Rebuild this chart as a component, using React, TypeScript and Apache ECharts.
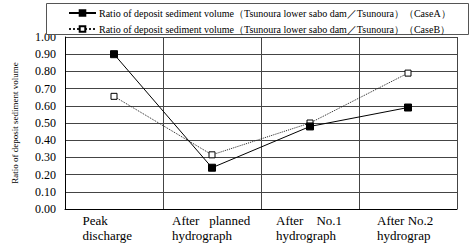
import React, { useEffect, useRef } from "react";
import * as echarts from "echarts";

const categories = [
  "Peak\ndischarge",
  "After   planned\nhydrograph",
  "After    No.1\nhydrograph",
  "After No.2\nhydrograp",
];
const seriesNames = [
  "Ratio of deposit sediment volume（Tsunoura lower sabo dam／Tsunoura）（CaseA）",
  "Ratio of deposit sediment volume（Tsunoura lower sabo dam／Tsunoura）（CaseB）",
];
const caseA = [0.9, 0.24, 0.48, 0.59];
const caseB = [0.655, 0.315, 0.5, 0.79];
const yTicks = { min: 0, max: 1, interval: 0.1 };
const yAxisTitle = "Ratio of deposit sediment volume";

const SERIF = "serif";

export default function App() {
  const ref = useRef<HTMLDivElement>(null);
  useEffect(() => {
    if (!ref.current) return;
    const chart = echarts.init(ref.current, undefined, { renderer: "svg" });
    const labelWidths = [63, 80, 68, 62];
    const rich: Record<string, any> = {};
    labelWidths.forEach((w, i) => {
      rich["c" + i] = {
        width: w,
        align: "left",
        fontSize: 13,
        lineHeight: 15,
        fontFamily: SERIF,
        color: "#000",
      };
    });
    chart.setOption({
      animation: false,
      backgroundColor: "#fff",
      textStyle: { fontFamily: SERIF },
      grid: { left: 65, right: 14, top: 37, bottom: 39 },
      graphic: [
        {
          type: "rect",
          z: 50,
          shape: { x: 46.5, y: 3.5, width: 422, height: 31 },
          style: { fill: "#fff", stroke: "#555", lineWidth: 1 },
        },
      ],
      legend: {
        z: 60,
        orient: "vertical",
        left: 68,
        top: 7,
        padding: 0,
        itemGap: 4,
        itemWidth: 27,
        itemHeight: 7,
        textStyle: {
          fontSize: 10,
          lineHeight: 12,
          fontFamily: SERIF,
          color: "#000",
          padding: [0, 0, 0, -2],
        },
        data: seriesNames,
      },
      xAxis: {
        type: "category",
        data: categories,
        boundaryGap: true,
        axisLine: { lineStyle: { color: "#000", width: 1 } },
        axisTick: { show: false },
        splitLine: { show: true, lineStyle: { color: "#444", width: 1 } },
        axisLabel: {
          interval: 0,
          margin: 4,
          fontFamily: SERIF,
          formatter: (v: string, i: number) =>
            v
              .split("\n")
              .map((l) => `{c${i}|${l}}`)
              .join("\n"),
          rich,
        },
      },
      yAxis: {
        type: "value",
        min: yTicks.min,
        max: yTicks.max,
        interval: yTicks.interval,
        name: yAxisTitle,
        nameLocation: "middle",
        nameGap: 46,
        nameRotate: 90,
        nameTextStyle: { fontSize: 9, fontFamily: SERIF, color: "#000" },
        axisLine: { show: true, lineStyle: { color: "#000", width: 1 } },
        axisTick: { show: false },
        splitLine: { show: true, lineStyle: { color: "#444", width: 1 } },
        axisLabel: {
          margin: 9,
          fontSize: 12,
          fontFamily: SERIF,
          color: "#000",
          formatter: (v: number) => v.toFixed(2),
        },
      },
      series: [
        {
          name: seriesNames[0],
          type: "line",
          data: caseA,
          symbol: "rect",
          symbolSize: 7,
          lineStyle: { color: "#000", width: 1, type: "solid" },
          itemStyle: { color: "#000", borderColor: "#000", borderWidth: 1 },
          z: 3,
        },
        {
          name: seriesNames[1],
          type: "line",
          data: caseB,
          symbol: "rect",
          symbolSize: 6,
          lineStyle: { color: "#222", width: 1, type: "dotted" },
          itemStyle: { color: "#fff", borderColor: "#000", borderWidth: 1 },
          z: 2,
        },
      ],
    });
    return () => chart.dispose();
  }, []);
  return (
    <div
      ref={ref}
      style={{ position: "absolute", left: 0, top: 0, width: 471, height: 248 }}
    />
  );
}
